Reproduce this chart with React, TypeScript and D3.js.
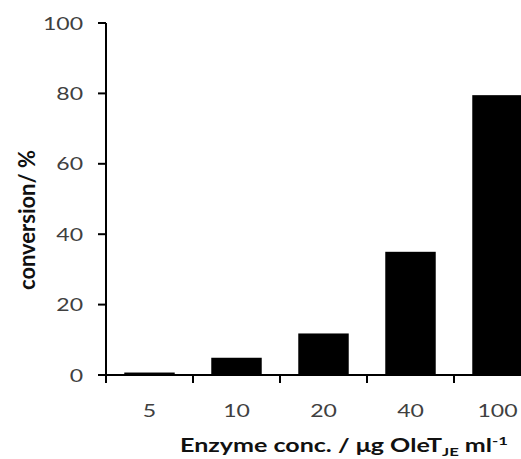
import React from "react";
import * as d3 from "d3";

const categories = ["5", "10", "20", "40", "100"];
const conversion = [0.7, 4.9, 11.8, 35.0, 79.5];
const yTicks = [0, 20, 40, 60, 80, 100];

const W = 521;
const H = 459;
const FONT = "Lato, 'Open Sans', sans-serif";
const SX = 1.28;

export default function App() {
  const x = d3
    .scaleBand<string>()
    .domain(categories)
    .range([106, 541])
    .paddingInner(0.42)
    .paddingOuter(0.21);
  const y = d3.scaleLinear().domain([0, 100]).range([375, 23]);
  const step = x.step();
  const gap = (step - x.bandwidth()) / 2;
  const tickXs = categories.map((c) => (x(c) as number) - gap);
  tickXs.push((x(categories[categories.length - 1]) as number) + x.bandwidth() + gap);

  return (
    <svg
      width={W}
      height={H}
      style={{ position: "absolute", left: 0, top: 0, background: "#fff" }}
    >
      <rect x={0} y={0} width={W} height={H} fill="#fff" />
      {categories.map((c, i) => (
        <rect
          key={c}
          x={x(c)}
          y={y(conversion[i])}
          width={x.bandwidth()}
          height={y(0) - y(conversion[i])}
          fill="#000"
        />
      ))}
      {/* y axis */}
      <line x1={106} x2={106} y1={y(100)} y2={y(0)} stroke="#000" strokeWidth={2} />
      {yTicks.map((t) => (
        <g key={t}>
          <line x1={98} x2={106} y1={y(t)} y2={y(t)} stroke="#000" strokeWidth={2} />
          <text
            transform={`translate(83,${y(t) + 6.5}) scale(${SX},1)`}
            textAnchor="end"
            fontFamily={FONT}
            fontSize={18}
            fill="#404040"
          >
            {t}
          </text>
        </g>
      ))}
      {/* x axis */}
      <line x1={98} x2={W} y1={y(0)} y2={y(0)} stroke="#000" strokeWidth={2} />
      {tickXs.map((tx, i) => (
        <line key={i} x1={tx} x2={tx} y1={y(0)} y2={y(0) + 8} stroke="#000" strokeWidth={2} />
      ))}
      {categories.map((c) => (
        <text
          key={c}
          transform={`translate(${(x(c) as number) + x.bandwidth() / 2},417) scale(${SX},1)`}
          textAnchor="middle"
          fontFamily={FONT}
          fontSize={18}
          fill="#404040"
        >
          {c}
        </text>
      ))}
      <text
        x={180}
        y={452}
        textLength={328}
        lengthAdjust="spacingAndGlyphs"
        fontFamily={FONT}
        fontSize={18}
        fontWeight="bold"
        fill="#111"
      >
        Enzyme conc. / μg OleT
        <tspan fontSize={12} dy="4">JE</tspan>
        <tspan dy="-4"> ml</tspan>
        <tspan fontSize={12} dy="-7">-1</tspan>
      </text>
      <text
        transform={`translate(35,290) scale(${SX},1) rotate(-90)`}
        textLength={140}
        lengthAdjust="spacingAndGlyphs"
        fontFamily={FONT}
        fontSize={18}
        fontWeight="bold"
        fill="#111"
      >
        conversion/ %
      </text>
    </svg>
  );
}
